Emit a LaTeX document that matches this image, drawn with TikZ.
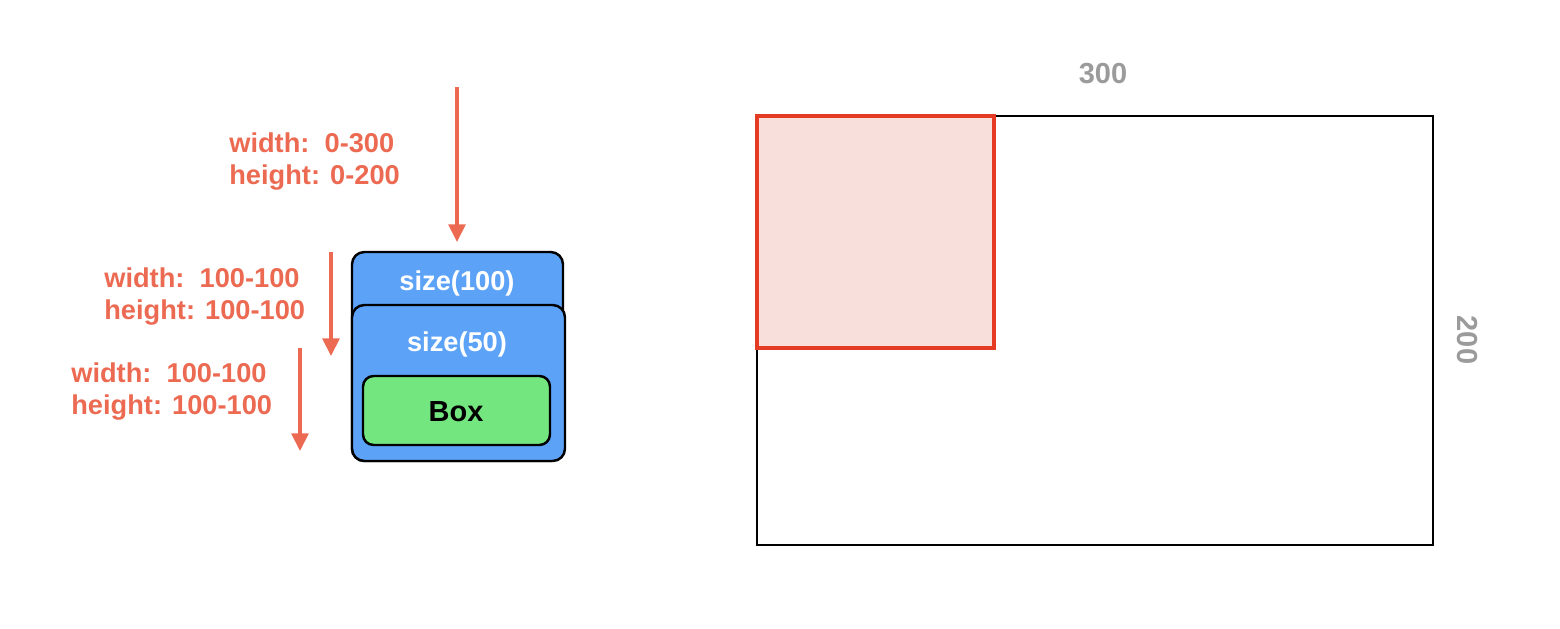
\documentclass[tikz,border=0pt]{standalone}
\usepackage{fontspec}
\setmainfont{Liberation Sans}
\usepackage{tikz}
\usetikzlibrary{arrows.meta}

\definecolor{labelorange}{RGB}{236,106,82}
\definecolor{boxblue}{RGB}{92,162,247}
\definecolor{boxgreen}{RGB}{115,230,127}
\definecolor{areared}{RGB}{229,58,36}
\definecolor{areapink}{RGB}{249,223,219}
\definecolor{dimgray}{RGB}{155,155,155}

\tikzset{
    arr/.style={draw=labelorange, line width=2.1pt, -{Triangle[length=10pt, width=9.5pt]}},
    rangetext/.style={labelorange, font=\fontsize{15.5}{18.2}\selectfont\bfseries, align=left, anchor=west, inner sep=0pt},
    boxtext/.style={font=\fontsize{15.5}{18}\selectfont\bfseries, inner sep=0pt},
    dimtext/.style={dimgray, font=\fontsize{16.5}{19}\selectfont\bfseries, inner sep=0pt}
}

\begin{document}
\begin{tikzpicture}[x=0.02cm, y=-0.02cm]
    \useasboundingbox (0, 0) rectangle (1560, 629);

    % constraints passed down
    \coordinate (a1s) at (457, 87);
    \coordinate (a1e) at (457, 242);
    \draw[arr] (a1s) -- (a1e);
    \node[rangetext] (r1) at (229, 162) {width:\ \ 0-300\\height: 0-200};

    \coordinate (a2s) at (331, 252);
    \coordinate (a2e) at (331, 356);
    \draw[arr] (a2s) -- (a2e);
    \node[rangetext] (r2) at (104, 297) {width:\ \ 100-100\\height: 100-100};

    \coordinate (a3s) at (300, 348);
    \coordinate (a3e) at (300, 451);
    \draw[arr] (a3s) -- (a3e);
    \node[rangetext] (r3) at (71, 392) {width:\ \ 100-100\\height: 100-100};

    % nested views
    \draw[fill=boxblue, line width=1.4pt, rounded corners=7pt] (352, 252) rectangle (563, 461);
    \node[boxtext, white] (s100) at (457, 283) {size(100)};
    \draw[fill=boxblue, line width=1.4pt, rounded corners=7pt] (352, 305) rectangle (565, 461);
    \node[boxtext, white] (s50) at (457, 344) {size(50)};
    \draw[fill=boxgreen, line width=1.4pt, rounded corners=6pt] (363, 376) rectangle (550, 445);
    \node[boxtext, font=\fontsize{16.5}{19}\selectfont\bfseries] (box) at (456, 412) {Box};

    % proposed area
    \draw[line width=0.6pt] (757, 116) rectangle (1433, 545);
    \draw[areared, fill=areapink, line width=2.4pt] (757, 116) rectangle (994, 348);
    \node[dimtext] (w) at (1103, 74) {300};
    \node[dimtext, rotate=-90] (h) at (1467, 340) {200};
\end{tikzpicture}
\end{document}
